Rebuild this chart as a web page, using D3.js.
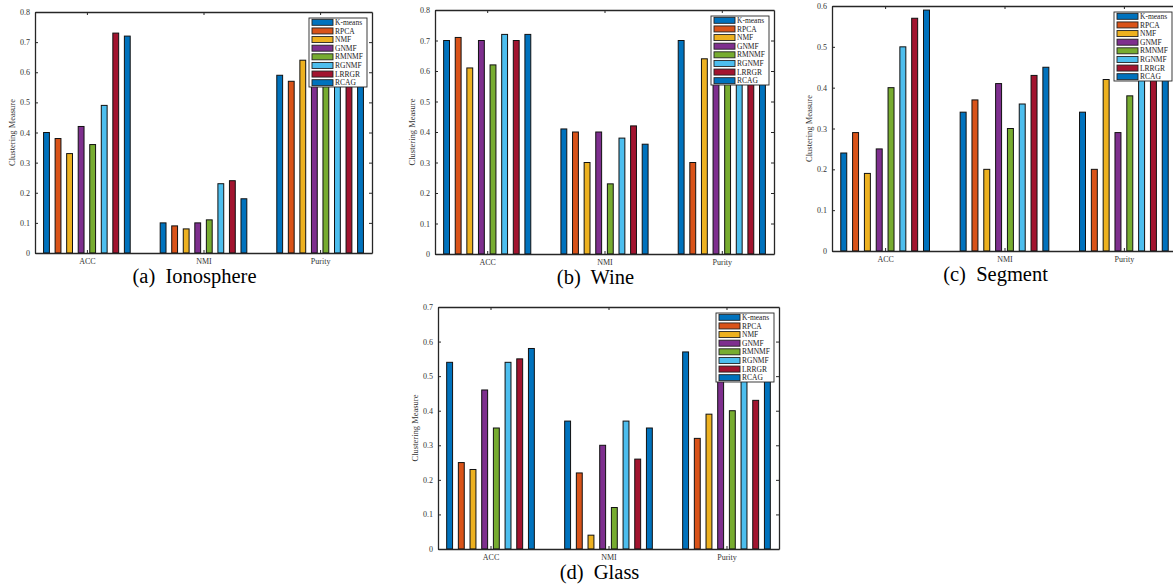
<!DOCTYPE html>
<html>
<head>
<meta charset="utf-8">
<script src="https://cdn.jsdelivr.net/npm/d3@7"></script>
<style>
  html, body { margin: 0; padding: 0; background: #fff; }
  svg { display: block; font-family: "Liberation Serif", "Times New Roman", serif; }
</style>
</head>
<body>
<svg id="chart" width="1173" height="585"></svg>
<script>
// ---------- data ----------
const categories = ["ACC", "NMI", "Purity"];
const methods = ["K-means", "RPCA", "NMF", "GNMF", "RMNMF", "RGNMF", "LRRGR", "RCAG"];

// (a) Ionosphere
const ionosphereACC    = [0.40, 0.38, 0.33, 0.42, 0.36, 0.49, 0.73, 0.72];
const ionosphereNMI    = [0.10, 0.09, 0.08, 0.10, 0.11, 0.23, 0.24, 0.18];
const ionospherePurity = [0.59, 0.57, 0.64, 0.64, 0.64, 0.65, 0.65, 0.66];
// (b) Wine
const wineACC    = [0.70, 0.71, 0.61, 0.70, 0.62, 0.72, 0.70, 0.72];
const wineNMI    = [0.41, 0.40, 0.30, 0.40, 0.23, 0.38, 0.42, 0.36];
const winePurity = [0.70, 0.30, 0.64, 0.70, 0.67, 0.71, 0.70, 0.72];
// (c) Segment
const segmentACC    = [0.24, 0.29, 0.19, 0.25, 0.40, 0.50, 0.57, 0.59];
const segmentNMI    = [0.34, 0.37, 0.20, 0.41, 0.30, 0.36, 0.43, 0.45];
const segmentPurity = [0.34, 0.20, 0.42, 0.29, 0.38, 0.52, 0.55, 0.58];
// (d) Glass
const glassACC    = [0.54, 0.25, 0.23, 0.46, 0.35, 0.54, 0.55, 0.58];
const glassNMI    = [0.37, 0.22, 0.04, 0.30, 0.12, 0.37, 0.26, 0.35];
const glassPurity = [0.57, 0.32, 0.39, 0.55, 0.40, 0.58, 0.43, 0.60];

const yTicksA = [0, 0.1, 0.2, 0.3, 0.4, 0.5, 0.6, 0.7, 0.8];
const yTicksB = [0, 0.1, 0.2, 0.3, 0.4, 0.5, 0.6, 0.7, 0.8];
const yTicksC = [0, 0.1, 0.2, 0.3, 0.4, 0.5, 0.6];
const yTicksD = [0, 0.1, 0.2, 0.3, 0.4, 0.5, 0.6, 0.7];

// ---------- styles / layout ----------
const colors = ["#0072BD", "#D95319", "#EDB120", "#7E2F8E", "#77AC30", "#4DBEEE", "#A2142F", "#0072BD"];
const axisColor = "#262626";
const serif = "Liberation Serif, Times New Roman, serif";

const panels = [
  { tag: "(a)", name: "Ionosphere", left: 35,  right: 372,  top: 12,  bottom: 253, ticks: yTicksA,
    data: [ionosphereACC, ionosphereNMI, ionospherePurity] },
  { tag: "(b)", name: "Wine",       left: 435, right: 774,  top: 10,  bottom: 254, ticks: yTicksB,
    data: [wineACC, wineNMI, winePurity] },
  { tag: "(c)", name: "Segment",    left: 832, right: 1177, top: 6,   bottom: 251, ticks: yTicksC,
    data: [segmentACC, segmentNMI, segmentPurity] },
  { tag: "(d)", name: "Glass",      left: 438, right: 779,  top: 307, bottom: 549, ticks: yTicksD,
    data: [glassACC, glassNMI, glassPurity] }
];

const svg = d3.select("#chart");
const fmt = d => d === 0 ? "0" : d3.format(".1f")(d);

panels.forEach(p => {
  const g = svg.append("g");
  const ymax = p.ticks[p.ticks.length - 1];
  const x = d3.scaleLinear().domain([0.555, 3.445]).range([p.left, p.right]);
  const y = d3.scaleLinear().domain([0, ymax]).range([p.bottom, p.top]);
  const step = 0.099, bw = 0.05;

  // bars
  categories.forEach((c, ci) => {
    g.append("g").selectAll("rect")
      .data(p.data[ci])
      .join("rect")
      .attr("x", (v, j) => x(ci + 1 + (j - 3.5) * step - bw / 2))
      .attr("width", x(bw) - x(0))
      .attr("y", v => y(v))
      .attr("height", v => y(0) - y(v))
      .attr("fill", (v, j) => colors[j])
      .attr("stroke", "#111")
      .attr("stroke-width", 1);
  });

  // y axes (left and right, inward ticks)
  const yl = g.append("g").attr("transform", `translate(${p.left},0)`)
    .call(d3.axisLeft(y).tickValues(p.ticks).tickFormat(fmt).tickSizeInner(-3).tickSizeOuter(0).tickPadding(5));
  const yr = g.append("g").attr("transform", `translate(${p.right},0)`)
    .call(d3.axisRight(y).tickValues(p.ticks).tickFormat("").tickSizeInner(-3).tickSizeOuter(0));
  // x axes (bottom and top)
  const xb = g.append("g").attr("transform", `translate(0,${p.bottom})`)
    .call(d3.axisBottom(x).tickValues([1, 2, 3]).tickFormat((d, i) => categories[i]).tickSizeInner(-3).tickSizeOuter(0).tickPadding(5));
  const xt = g.append("g").attr("transform", `translate(0,${p.top})`)
    .call(d3.axisTop(x).tickValues([1, 2, 3]).tickFormat("").tickSizeInner(-3).tickSizeOuter(0));

  [yl, yr, xb, xt].forEach(a => {
    a.attr("font-family", serif);
    a.selectAll("path.domain").attr("stroke", axisColor).attr("stroke-width", 1.3);
    a.selectAll(".tick line").attr("stroke", axisColor).attr("stroke-width", 1);
    a.selectAll("text").attr("font-family", serif).attr("font-size", 8).attr("fill", "#333");
  });

  // y label
  g.append("text")
    .attr("transform", `translate(${p.left - 20},${(p.top + p.bottom) / 2}) rotate(-90)`)
    .attr("text-anchor", "middle")
    .attr("font-family", serif)
    .attr("font-size", 8.5)
    .attr("fill", "#333")
    .text("Clustering Measure");

  // legend
  const lw = 58, lh = 69, lx = p.right - 63, ly = p.top + 6, rh = lh / methods.length;
  const lg = g.append("g");
  lg.append("rect").attr("x", lx).attr("y", ly).attr("width", lw).attr("height", lh)
    .attr("fill", "#fff").attr("stroke", axisColor).attr("stroke-width", 0.9);
  methods.forEach((m, j) => {
    const cy = ly + rh * (j + 0.5);
    lg.append("rect").attr("x", lx + 3).attr("y", cy - 3).attr("width", 21).attr("height", 6)
      .attr("fill", colors[j]).attr("stroke", "#222").attr("stroke-width", 0.9);
    lg.append("text").attr("x", lx + 26).attr("y", cy + 2.6)
      .attr("font-family", serif)
      .attr("font-size", 7.5).attr("fill", "#222").text(m);
  });

  // caption
  g.append("text")
    .attr("x", (p.left + p.right) / 2 - 9)
    .attr("y", p.bottom + 30)
    .attr("text-anchor", "middle")
    .attr("font-family", serif)
    .attr("font-size", 20.5)
    .attr("fill", "#000")
    .style("white-space", "pre")
    .text(p.tag + "\u00a0 " + p.name);
});
</script>
</body>
</html>
